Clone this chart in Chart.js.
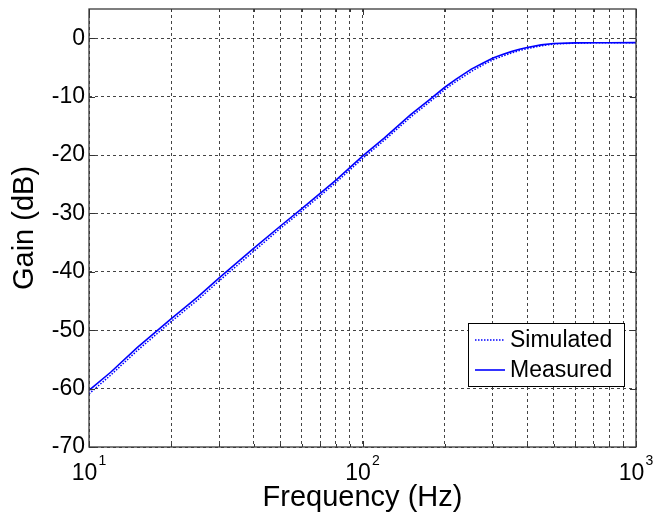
<!DOCTYPE html>
<html lang="en">
<head>
    <meta charset="UTF-8" />
    <title>Gain vs Frequency</title>
    <script src="https://cdn.jsdelivr.net/npm/chart.js"></script>
    <style>
        body {
            margin: 0;
            background: #fff;
        }
        #grafico {
            display: block;
        }
    </style>
</head>
<body>
    <canvas id="grafico" width="663" height="517"></canvas>

    <script>
        // Datos
        const frecuencias = [10, 12, 15, 20, 25, 30, 40, 50, 60, 80, 100, 120, 150, 175, 200, 220, 250, 275, 300, 325, 350, 375, 400, 450, 500, 600, 700, 800, 1000];
        const medido = [-60.3, -57.2, -53.0, -48.0, -44.3, -41.0, -36.0, -32.2, -29.2, -24.3, -20.2, -17.1, -13.1, -10.6, -8.4, -7.0, -5.3, -4.3, -3.4, -2.8, -2.3, -1.9, -1.6, -1.15, -0.9, -0.8, -0.78, -0.77, -0.76];
        const simulado = [-60.9, -57.7, -53.5, -48.5, -44.8, -41.5, -36.5, -32.6, -29.6, -24.7, -20.6, -17.5, -13.5, -11.0, -8.8, -7.4, -5.7, -4.6, -3.7, -3.05, -2.55, -2.1, -1.8, -1.3, -1.0, -0.85, -0.8, -0.79, -0.78];

        const ticksX = [10, 20, 30, 40, 50, 60, 70, 80, 90, 100, 200, 300, 400, 500, 600, 700, 800, 900, 1000];
        const decadas = [10, 100, 1000];
        const ticksY = [-70, -60, -50, -40, -30, -20, -10, 0];

        const fuente = 'Arial, "Liberation Sans", sans-serif';

        // Etiquetas 10^n, marco, marcas y leyenda
        const extras = {
            id: 'extras',
            afterDraw(chart) {
                const ctx = chart.ctx;
                const area = chart.chartArea;
                const x = chart.scales.x;
                const y = chart.scales.y;
                ctx.save();

                // marcas hacia dentro
                ctx.strokeStyle = '#333';
                ctx.lineWidth = 1;
                ctx.beginPath();
                ticksX.forEach(v => {
                    const px = Math.round(x.getPixelForValue(v)) + 0.5;
                    const largo = decadas.includes(v) ? 6 : 3;
                    ctx.moveTo(px, area.bottom); ctx.lineTo(px, area.bottom - largo);
                    ctx.moveTo(px, area.top); ctx.lineTo(px, area.top + largo);
                });
                ticksY.forEach(v => {
                    const py = Math.round(y.getPixelForValue(v)) + 0.5;
                    ctx.moveTo(area.left, py); ctx.lineTo(area.left + 6, py);
                    ctx.moveTo(area.right, py); ctx.lineTo(area.right - 6, py);
                });
                ctx.stroke();

                // marco
                ctx.strokeStyle = '#3a3a3a';
                ctx.lineWidth = 1.3;
                ctx.strokeRect(area.left, area.top, area.right - area.left, area.bottom - area.top);

                // etiquetas de decadas
                ctx.fillStyle = '#000';
                ctx.textBaseline = 'alphabetic';
                decadas.forEach(v => {
                    const px = x.getPixelForValue(v);
                    const exp = String(Math.round(Math.log10(v)));
                    ctx.font = '23px ' + fuente;
                    const w1 = ctx.measureText('10').width;
                    ctx.font = '14px ' + fuente;
                    const w2 = ctx.measureText(exp).width;
                    const inicio = px - (w1 + w2 + 1) / 2;
                    ctx.font = '23px ' + fuente;
                    ctx.textAlign = 'left';
                    ctx.fillText('10', inicio, 480);
                    ctx.font = '14px ' + fuente;
                    ctx.fillText(exp, inicio + w1 + 1, 465);
                });

                // leyenda
                const lx = 468, ly = 323, lw = 156, lh = 63;
                ctx.fillStyle = '#fff';
                ctx.fillRect(lx, ly, lw, lh);
                ctx.strokeStyle = '#000';
                ctx.lineWidth = 1;
                ctx.strokeRect(lx + 0.5, ly + 0.5, lw, lh);
                chart.data.datasets.forEach((ds, i) => {
                    const yy = ly + 17 + i * 30;
                    ctx.strokeStyle = ds.borderColor;
                    ctx.lineWidth = ds.borderWidth;
                    ctx.setLineDash(ds.borderDash || []);
                    ctx.beginPath();
                    ctx.moveTo(lx + 7, yy);
                    ctx.lineTo(lx + 37, yy);
                    ctx.stroke();
                    ctx.setLineDash([]);
                    ctx.fillStyle = '#000';
                    ctx.font = '23px ' + fuente;
                    ctx.textAlign = 'left';
                    ctx.textBaseline = 'middle';
                    ctx.fillText(ds.label, lx + 42, yy + 1);
                });
                ctx.restore();
            }
        };

        new Chart(document.getElementById('grafico'), {
            type: 'line',
            data: {
                datasets: [{
                    label: 'Simulated',
                    data: frecuencias.map((f, i) => ({ x: f, y: simulado[i] })),
                    borderColor: '#0000ff',
                    borderWidth: 1.5,
                    borderDash: [1.5, 1.5],
                    pointRadius: 0,
                    tension: 0
                }, {
                    label: 'Measured',
                    data: frecuencias.map((f, i) => ({ x: f, y: medido[i] })),
                    borderColor: '#0000ff',
                    borderWidth: 1.6,
                    pointRadius: 0,
                    tension: 0
                }]
            },
            options: {
                responsive: false,
                animation: false,
                layout: {
                    padding: { top: 9, right: 27, left: 0, bottom: 0 }
                },
                plugins: {
                    legend: { display: false },
                    tooltip: { enabled: false }
                },
                scales: {
                    x: {
                        type: 'logarithmic',
                        min: 10,
                        max: 1000,
                        afterBuildTicks: scale => { scale.ticks = ticksX.map(v => ({ value: v })); },
                        afterFit: scale => {
                            scale.height = 70;
                            scale.paddingLeft = 0;
                            scale.paddingRight = 0;
                        },
                        ticks: { display: false },
                        grid: { color: '#444', lineWidth: 1, drawTicks: false },
                        border: { display: false, dash: [3, 3] },
                        title: {
                            display: true,
                            text: 'Frequency (Hz)',
                            color: '#000',
                            font: { family: fuente, size: 29 },
                            padding: { top: 0, bottom: 2 }
                        }
                    },
                    y: {
                        min: -70,
                        max: 5,
                        afterBuildTicks: scale => { scale.ticks = ticksY.map(v => ({ value: v })); },
                        afterFit: scale => {
                            scale.width = 89;
                            scale.paddingTop = 0;
                            scale.paddingBottom = 0;
                        },
                        ticks: {
                            color: '#000',
                            padding: 4,
                            font: { family: fuente, size: 23 }
                        },
                        grid: { color: '#444', lineWidth: 1, drawTicks: false },
                        border: { display: false, dash: [3, 3] },
                        title: {
                            display: true,
                            text: 'Gain (dB)',
                            color: '#000',
                            font: { family: fuente, size: 29 },
                            padding: { top: 8, bottom: 0 }
                        }
                    }
                }
            },
            plugins: [extras]
        });
    </script>
</body>
</html>
